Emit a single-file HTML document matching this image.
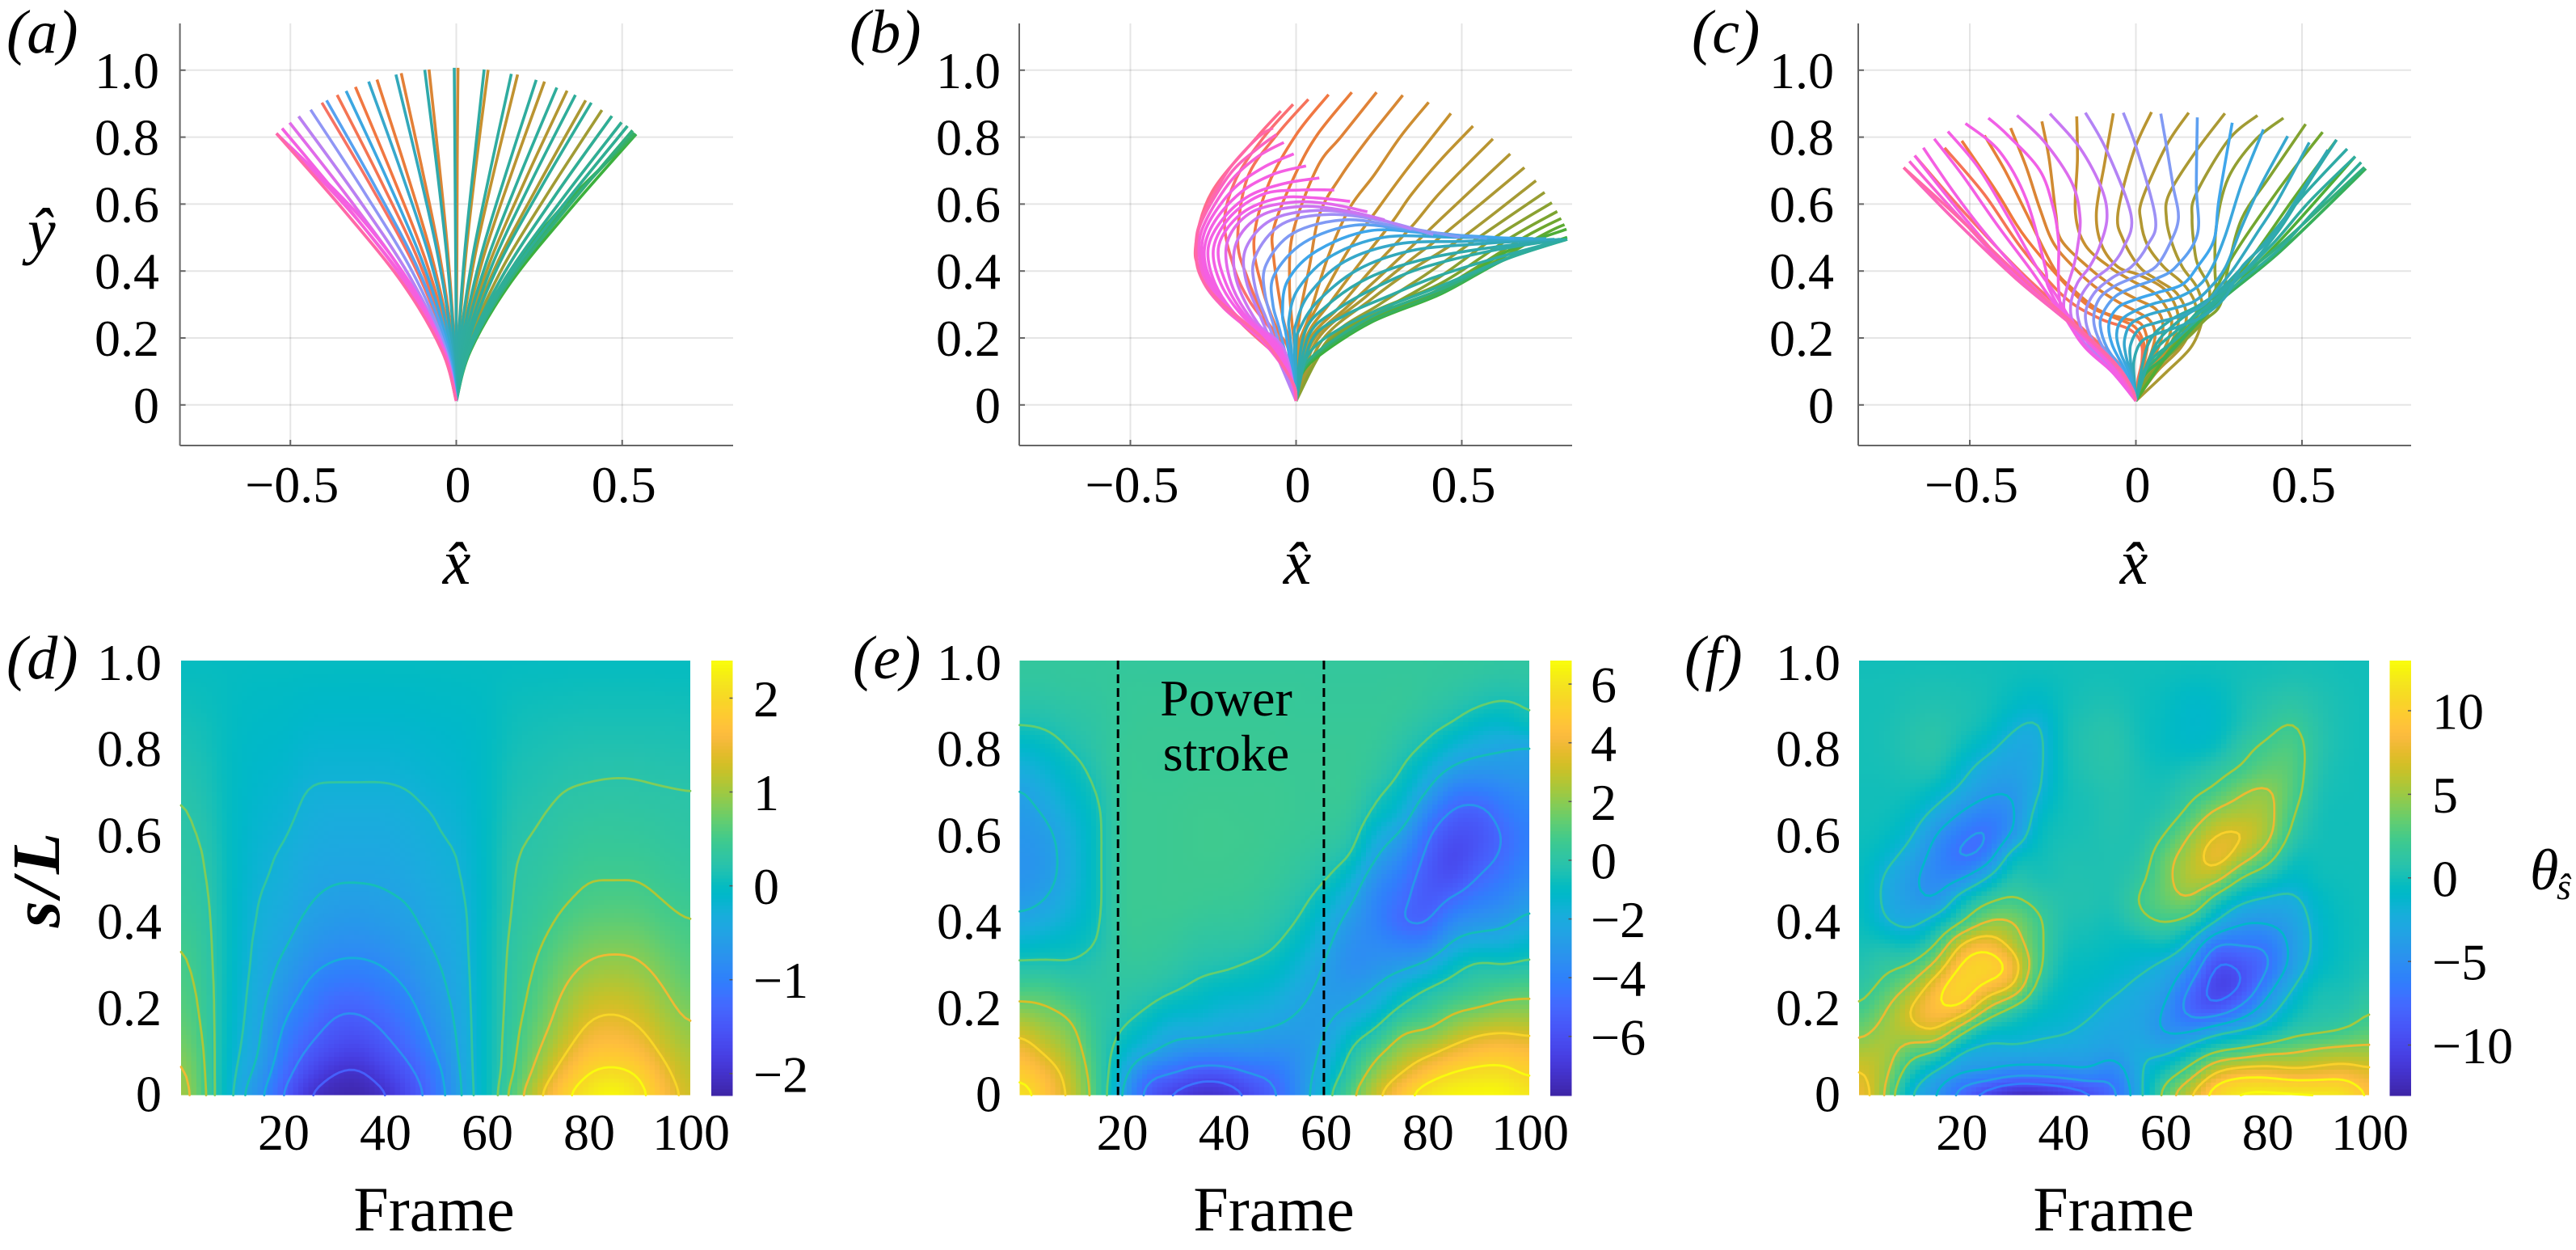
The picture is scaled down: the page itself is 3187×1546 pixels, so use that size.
<!DOCTYPE html>
<html lang="en">
<head>
<meta charset="utf-8">
<title>Beat patterns and curvature maps</title>
<style>
html,body{margin:0;padding:0;background:#fff;}
svg{display:block;}
text{font-family:"Liberation Serif",serif;fill:#000;}
.it{font-style:italic;}
</style>
</head>
<body>
<svg id="figure" xmlns="http://www.w3.org/2000/svg" width="3187" height="1546" viewBox="0 0 3187 1546">
  <rect x="0" y="0" width="3187" height="1546" fill="#fff"/>
  <g id="panel-a"></g>
  <g id="panel-b"></g>
  <g id="panel-c"></g>
  <g id="panel-d"></g>
  <g id="panel-e"></g>
  <g id="panel-f"></g>
  <g id="labels">
    <text class="it" x="8" y="65" font-size="76">(a)</text>
    <text class="it" x="1051" y="65" font-size="76">(b)</text>
    <text class="it" x="2093" y="65" font-size="76">(c)</text>
    <text class="it" x="8" y="839" font-size="76">(d)</text>
    <text class="it" x="1055" y="839" font-size="76">(e)</text>
    <text class="it" x="2084" y="839" font-size="76">(f)</text>
    <text class="it" x="34" y="312" font-size="78">ŷ</text>
    <text class="it" x="565" y="722" font-size="78" text-anchor="middle">x̂</text>
    <text class="it" x="1605" y="722" font-size="78" text-anchor="middle">x̂</text>
    <text class="it" x="2640" y="722" font-size="78" text-anchor="middle">x̂</text>
    <text class="it" transform="translate(73,1086) rotate(-90)" font-size="84" font-weight="bold" text-anchor="middle" letter-spacing="5">s/L</text>
    <text x="537" y="1522" font-size="78" text-anchor="middle">Frame</text>
    <text x="1576" y="1522" font-size="78" text-anchor="middle">Frame</text>
    <text x="2615" y="1522" font-size="78" text-anchor="middle">Frame</text>
    <text class="it" x="3130" y="1100" font-size="72">θ</text>
    <text class="it" x="3163" y="1112" font-size="46">ŝ</text>
  </g>
  <g id="annot">
    <text x="1517" y="885" font-size="64" text-anchor="middle">Power</text>
    <text x="1517" y="953" font-size="64" text-anchor="middle">stroke</text>
  </g>
</svg>
<script>
/* ---------- shared axis labels ---------- */
const fanXTicks = [-0.5, 0, 0.5];
const fanXLabels = ["−0.5", "0", "0.5"];
const fanYTicks = [0, 0.2, 0.4, 0.6, 0.8, 1.0];
const fanYLabels = ["0", "0.2", "0.4", "0.6", "0.8", "1.0"];
const frameTicks = [20, 40, 60, 80, 100];
const frameLabels = ["20", "40", "60", "80", "100"];
const arcTicks = [0, 0.2, 0.4, 0.6, 0.8, 1.0];
const arcLabels = ["0", "0.2", "0.4", "0.6", "0.8", "1.0"];
const heatFrames = [0,5,10,15,20,25,30,35,40,45,50,55,60,65,70,75,80,85,90,95,100];
const heatArc = [0,.05,.1,.15,.2,.25,.3,.35,.4,.45,.5,.55,.6,.65,.7,.75,.8,.85,.9,.95,1];
const curveBaseX = 0;
const curveBaseY = 0.012;

/* ---------- panel (a) filament shapes: per-frame x and y samples, base to tip ---------- */
const aX = [
[-.043,-.163,-.341,-.542],[-.042,-.158,-.331,-.525],[-.04,-.151,-.316,-.502],[-.038,-.143,-.299,-.475],
[-.032,-.122,-.255,-.405],[-.029,-.108,-.226,-.359],[-.024,-.091,-.192,-.304],[-.019,-.072,-.151,-.239],
[-.013,-.05,-.105,-.166],[-.007,-.025,-.052,-.082],[0,.002,.003,.005],[.008,.029,.06,.096],
[.015,.056,.117,.185],[.021,.08,.168,.266],[.027,.1,.21,.334],[.031,.117,.246,.39],
[.035,.132,.277,.439],[.038,.141,.295,.469],[.04,.149,.314,.498],[.041,.155,.325,.516],
[.042,.159,.335,.531],[.043,.163,.341,.542],
[.036,.14,.31,.542],[.039,.15,.325,.537],
[.042,.159,.335,.531],[.041,.155,.325,.516],[.04,.149,.314,.498],[.038,.141,.295,.469],
[.033,.122,.256,.407],[.029,.108,.226,.359],[.024,.091,.191,.303],[.019,.072,.152,.241],
[.013,.05,.105,.166],[.007,.025,.053,.084],[0,-.002,-.004,-.006],[-.008,-.029,-.06,-.095],
[-.015,-.055,-.115,-.182],[-.021,-.079,-.166,-.264],[-.027,-.1,-.209,-.332],[-.031,-.117,-.246,-.391],
[-.035,-.132,-.277,-.439],[-.038,-.143,-.299,-.475],[-.04,-.151,-.316,-.502],[-.042,-.158,-.331,-.525],
[-.036,-.14,-.31,-.542],[-.04,-.15,-.325,-.542],[-.043,-.163,-.341,-.542]];
const aY = [
[.162,.365,.584,.811],[.165,.372,.595,.826],[.169,.379,.607,.843],[.172,.388,.621,.862],
[.181,.406,.65,.903],[.185,.417,.667,.926],[.19,.428,.684,.95],[.194,.437,.7,.972],
[.198,.446,.714,.991],[.2,.451,.721,1.002],[.201,.453,.725,1.007],[.2,.45,.721,1.001],
[.197,.444,.711,.987],[.193,.435,.696,.966],[.188,.423,.676,.939],[.182,.41,.655,.91],
[.176,.396,.634,.881],[.173,.388,.621,.863],[.169,.38,.608,.844],[.167,.375,.6,.833],
[.164,.369,.59,.82],[.162,.364,.582,.809],
[.162,.364,.582,.809],[.163,.366,.585,.813],
[.164,.369,.59,.82],[.167,.375,.6,.833],[.169,.38,.608,.844],[.173,.388,.621,.863],
[.181,.406,.65,.903],[.185,.417,.667,.926],[.19,.427,.683,.948],[.194,.437,.699,.971],
[.198,.445,.712,.989],[.2,.451,.721,1.002],[.201,.453,.725,1.007],[.2,.45,.721,1.001],
[.197,.444,.711,.987],[.193,.435,.696,.966],[.188,.422,.675,.938],[.182,.41,.655,.91],
[.176,.397,.635,.882],[.172,.388,.621,.862],[.169,.379,.607,.843],[.165,.372,.595,.826],
[.162,.365,.584,.811],[.162,.365,.584,.811],[.162,.365,.584,.811]];
const aWarmCount = 22;

/* ---------- panel (b) ---------- */
const bX = [
[-.012,-.041,-.172,-.285,-.302,-.253,-.119,-.046],
[-.012,-.05,-.139,-.188,-.216,-.18,-.098,-.009],
[-.012,-.041,-.098,-.147,-.176,-.147,-.058,.037],
[-.012,-.025,-.058,-.102,-.127,-.082,.003,.098],
[-.017,-.041,-.068,-.066,0,.064,.168],
[-.005,-.013,-.02,-.009,.064,.137,.243],
[.003,.011,.04,.072,.137,.223,.322],
[.007,.04,.097,.162,.235,.316,.4],
[.02,.08,.162,.243,.333,.467],
[.028,.105,.202,.292,.349,.438,.534],
[.036,.129,.227,.349,.438,.594],
[.048,.162,.292,.438,.646],
[.064,.211,.349,.45,.689],
[.08,.227,.349,.503,.724],
[.097,.251,.389,.552,.75],
[.105,.267,.43,.601,.772],
[.011,.08,.227,.438,.646,.788],
[.011,.08,.227,.438,.682,.8],
[.011,.072,.227,.438,.731,.81],
[.011,.064,.227,.438,.633,.816],
[.011,.064,.227,.438,.633,.818],
[.011,.064,.227,.438,.633,.818],
[.011,.056,.227,.438,.633,.818],
[.011,.04,.105,.227,.438,.633,.818],
[.048,.146,.276,.414,.593,.812],
[.036,.121,.251,.389,.593,.804],
[.024,.097,.219,.373,.552,.796],
[0,.011,.064,.186,.349,.552,.78],
[-.005,0,.04,.146,.308,.511,.755],
[-.017,-.021,.007,.105,.267,.471,.715],
[-.029,-.041,-.025,.064,.227,.43,.658],
[-.046,-.07,-.066,.024,.178,.357,.576],
[-.062,-.094,-.09,-.009,.146,.308,.495],
[-.078,-.123,-.123,-.041,.105,.267,.414],
[-.102,-.151,-.151,-.074,.064,.211,.349],
[-.037,-.115,-.18,-.18,-.107,.015,.146,.267],
[-.046,-.131,-.196,-.208,-.139,-.017,.097,.215],
[-.012,-.054,-.147,-.212,-.233,-.163,-.05,.064,.163],
[-.012,-.066,-.163,-.228,-.249,-.196,-.098,.015,.115],
[-.012,-.074,-.18,-.245,-.265,-.22,-.139,-.033,.07],
[-.012,-.082,-.188,-.257,-.277,-.245,-.163,-.066,.03],
[-.012,-.09,-.204,-.269,-.285,-.261,-.188,-.098,-.007],
[-.012,-.098,-.22,-.277,-.293,-.269,-.196,-.115,-.037],
[-.012,-.098,-.228,-.289,-.3,-.277,-.196,-.115,-.059],
[-.012,-.098,-.237,-.293,-.302,-.281,-.204,-.115,-.07]];
const bY = [
[.07,.13,.251,.396,.485,.638,.799,.878],
[.07,.187,.308,.412,.549,.678,.799,.898],
[.07,.179,.267,.38,.493,.678,.807,.913],
[.07,.171,.227,.348,.493,.662,.811,.927],
[.171,.267,.444,.533,.694,.807,.934],
[.171,.251,.372,.517,.71,.803,.934],
[.171,.267,.412,.573,.686,.803,.925],
[.171,.267,.444,.589,.686,.803,.904],
[.195,.324,.469,.581,.702,.871],
[.195,.308,.436,.549,.63,.734,.833],
[.187,.291,.404,.533,.638,.795],
[.187,.3,.42,.557,.75],
[.195,.324,.436,.513,.709],
[.195,.316,.404,.501,.67],
[.195,.3,.388,.501,.635],
[.195,.287,.38,.501,.604],
[.082,.171,.275,.364,.499,.578],
[.082,.163,.259,.348,.497,.557],
[.082,.155,.255,.34,.501,.539],
[.082,.147,.251,.336,.457,.525],
[.082,.143,.247,.332,.436,.501],
[.082,.151,.251,.336,.436,.495],
[.082,.151,.263,.346,.435,.495],
[.082,.155,.211,.275,.356,.436,.495],
[.195,.267,.324,.38,.436,.495],
[.203,.283,.356,.412,.461,.495],
[.211,.3,.38,.432,.465,.495],
[.179,.227,.308,.404,.461,.481,.495],
[.187,.243,.332,.428,.481,.489,.497],
[.195,.259,.348,.444,.501,.501,.497],
[.203,.275,.372,.461,.521,.51,.497],
[.211,.3,.388,.485,.537,.521,.497],
[.219,.332,.42,.513,.553,.533,.501],
[.227,.348,.444,.541,.569,.549,.509],
[.251,.372,.469,.553,.581,.565,.525],
[.167,.243,.372,.485,.565,.593,.581,.553],
[.171,.251,.364,.485,.573,.605,.601,.577],
[.07,.175,.259,.364,.477,.573,.618,.618,.608],
[.07,.179,.267,.364,.469,.565,.63,.642,.642],
[.07,.179,.267,.364,.469,.557,.626,.662,.678],
[.07,.183,.275,.372,.461,.549,.638,.69,.714],
[.07,.187,.283,.38,.469,.549,.646,.71,.75],
[.07,.187,.291,.38,.477,.557,.67,.742,.784],
[.07,.195,.3,.388,.485,.565,.694,.767,.808],
[.07,.195,.316,.396,.485,.565,.702,.799,.827]];
const bWarmCount = 21;

/* ---------- panel (c) ---------- */
const cX = [
[-.014,-.066,-.178,-.364,-.55,-.699],
[-.014,-.057,-.159,-.345,-.522,-.666],
[.006,.018,.015,-.022,-.111,-.217,-.345,-.457,-.576],
[.011,.026,.023,-.006,-.079,-.168,-.327,-.42,-.524],
[.012,.03,.034,.014,-.038,-.111,-.192,-.249,-.33,-.395,-.456],
[.018,.046,.058,.043,.002,-.054,-.127,-.188,-.249,-.29,-.33,-.377],
[.03,.071,.081,.059,.002,-.071,-.144,-.225,-.241,-.261,-.283],
[.038,.087,.107,.1,.059,-.014,-.079,-.152,-.182,-.176,-.178],
[.046,.103,.128,.092,.011,-.054,-.103,-.119,-.095,-.068],
[.054,.127,.152,.124,.067,.011,-.038,-.054,-.006,.047],
[.062,.135,.177,.177,.14,.084,.035,.015,.019,.092,.159],
[.092,.165,.197,.2,.181,.14,.108,.092,.1,.181,.268],
[.027,.108,.181,.213,.221,.189,.177,.169,.181,.278,.366],
[.035,.124,.197,.238,.238,.242,.278,.359,.444],
[.035,.124,.205,.254,.278,.319,.4,.511],
[.101,.222,.287,.362,.473,.562],
[.101,.241,.334,.473,.604],
[.101,.25,.436,.66],
[.027,.101,.241,.436,.692],
[.027,.101,.241,.436,.692],
[.02,.085,.215,.42,.688],
[.036,.129,.269,.427,.539,.678],
[.046,.129,.241,.408,.52,.66],
[.055,.129,.241,.38,.501,.636],
[.036,.101,.194,.306,.427,.529,.604],
[-.004,-.006,.015,.059,.132,.205,.27,.319,.408,.483,.578],
[-.007,-.016,-.016,.011,.067,.14,.205,.254,.298,.367,.424,.522],
[-.012,-.03,-.034,-.014,.043,.108,.173,.221,.27,.319,.375,.457],
[-.018,-.046,-.058,-.042,.002,.059,.124,.189,.23,.27,.319,.384],
[-.03,-.071,-.081,-.054,.002,.067,.14,.185,.235,.25,.29],
[-.038,-.087,-.107,-.099,-.062,-.006,.059,.12,.185,.182,.185],
[-.046,-.103,-.127,-.111,-.062,.002,.059,.1,.128,.112,.096,.075],
[-.054,-.127,-.152,-.127,-.071,-.014,.035,.059,.002,-.038],
[-.062,-.135,-.172,-.172,-.135,-.079,-.038,-.014,-.087,-.152],
[-.067,-.144,-.188,-.196,-.176,-.14,-.111,-.087,-.103,-.168,-.259],
[-.071,-.148,-.196,-.217,-.208,-.188,-.176,-.168,-.192,-.273,-.358],
[-.071,-.152,-.192,-.225,-.233,-.233,-.233,-.249,-.29,-.387,-.444],
[-.071,-.152,-.217,-.265,-.273,-.33,-.411,-.513],
[-.085,-.187,-.243,-.299,-.382,-.475,-.566],
[-.066,-.159,-.243,-.317,-.42,-.522,-.607],
[-.066,-.178,-.336,-.457,-.55,-.64],
[-.066,-.178,-.355,-.5,-.666],
[-.066,-.178,-.36,-.53,-.682],
[-.014,-.066,-.178,-.364,-.55,-.699],
[-.012,-.06,-.17,-.35,-.54,-.699]];
const cY = [
[.05,.122,.227,.38,.557,.709],
[.05,.13,.227,.396,.581,.745],
[.074,.13,.187,.227,.259,.324,.469,.63,.768],
[.078,.147,.187,.235,.267,.316,.493,.638,.789],
[.082,.147,.195,.243,.259,.283,.348,.412,.573,.702,.805],
[.09,.155,.211,.251,.279,.308,.356,.412,.485,.589,.71,.827],
[.098,.179,.243,.287,.316,.356,.412,.493,.573,.734,.847],
[.098,.171,.235,.275,.332,.372,.412,.477,.573,.734,.862],
[.098,.179,.259,.34,.388,.412,.477,.573,.718,.871],
[.098,.187,.267,.332,.372,.412,.493,.573,.758,.875],
[.098,.171,.251,.308,.364,.412,.477,.549,.614,.775,.873],
[.098,.171,.243,.3,.356,.412,.485,.557,.63,.758,.871],
[.082,.155,.227,.275,.348,.412,.461,.557,.63,.791,.865],
[.082,.171,.243,.324,.412,.533,.678,.791,.857],
[.082,.171,.251,.3,.412,.557,.678,.839],
[.163,.316,.436,.549,.702,.815],
[.159,.316,.42,.614,.792],
[.155,.308,.493,.742],
[.09,.155,.3,.46,.706],
[.09,.155,.3,.46,.706],
[.09,.162,.306,.466,.71],
[.122,.203,.332,.461,.581,.725],
[.147,.227,.316,.477,.605,.742],
[.171,.251,.332,.477,.622,.765],
[.179,.251,.3,.38,.517,.678,.792],
[.066,.13,.187,.211,.235,.267,.324,.412,.501,.614,.762],
[.074,.13,.179,.227,.247,.267,.3,.356,.412,.517,.605,.784],
[.082,.147,.195,.243,.271,.287,.308,.348,.412,.533,.654,.803],
[.09,.155,.211,.255,.283,.304,.32,.356,.412,.509,.662,.823],
[.098,.179,.243,.291,.316,.336,.36,.412,.493,.614,.843],
[.098,.171,.235,.275,.324,.352,.376,.412,.509,.654,.859],
[.098,.179,.251,.316,.356,.384,.412,.477,.557,.654,.75,.87],
[.098,.187,.267,.332,.38,.412,.477,.557,.767,.873],
[.098,.171,.251,.308,.368,.412,.469,.565,.758,.873],
[.098,.171,.243,.3,.364,.412,.469,.557,.646,.767,.87],
[.098,.171,.235,.291,.348,.412,.469,.557,.662,.783,.865],
[.098,.171,.227,.291,.356,.412,.493,.589,.702,.807,.857],
[.098,.171,.267,.356,.412,.614,.758,.841],
[.13,.243,.332,.412,.557,.71,.817],
[.106,.203,.3,.404,.541,.686,.795],
[.122,.227,.38,.517,.638,.768],
[.122,.227,.38,.54,.745],
[.122,.227,.38,.56,.728],
[.05,.122,.227,.38,.557,.709],
[.05,.122,.227,.385,.565,.709]];
const cWarmCount = 19;

/* ---------- panel (d) values: one column per frame, s/L from 0 to 1 ---------- */
const dValues = [
[1.1,1,.88,.75,.66,.6,.55,.5,.43,.38,.35,.32,.29,.27,.24,.2,.16,.12,.08,.04,0],
[.5,.47,.45,.42,.4,.38,.35,.33,.31,.29,.26,.24,.21,.18,.15,.13,.1,.08,.05,.03,0],
[-.25,-.2,-.16,-.12,-.1,-.08,-.06,-.05,-.04,-.04,-.03,-.03,-.03,-.03,-.02,-.02,-.02,-.01,-.01,0,0],
[-.75,-.58,-.46,-.42,-.38,-.35,-.32,-.3,-.27,-.25,-.22,-.2,-.17,-.15,-.12,-.1,-.08,-.06,-.04,-.02,0],
[-1.4,-1.2,-1.05,-.93,-.8,-.65,-.55,-.45,-.38,-.33,-.29,-.27,-.23,-.2,-.17,-.13,-.1,-.07,-.05,-.02,0],
[-2,-1.7,-1.45,-1.25,-1.08,-.95,-.8,-.67,-.56,-.48,-.43,-.38,-.33,-.29,-.26,-.21,-.17,-.12,-.08,-.04,0],
[-2.17,-2,-1.7,-1.5,-1.33,-1.12,-.93,-.78,-.65,-.55,-.48,-.42,-.37,-.32,-.27,-.22,-.18,-.13,-.09,-.04,0],
[-2.2,-2.05,-1.78,-1.55,-1.35,-1.15,-.95,-.8,-.67,-.57,-.48,-.42,-.37,-.32,-.27,-.22,-.18,-.13,-.09,-.05,0],
[-2.05,-1.8,-1.55,-1.37,-1.2,-1.03,-.88,-.74,-.62,-.53,-.47,-.42,-.37,-.32,-.27,-.22,-.18,-.13,-.09,-.04,0],
[-1.65,-1.48,-1.28,-1.12,-.98,-.85,-.72,-.62,-.54,-.48,-.42,-.37,-.33,-.29,-.25,-.2,-.16,-.12,-.08,-.04,0],
[-1.15,-1.05,-.88,-.76,-.66,-.58,-.52,-.46,-.4,-.36,-.32,-.29,-.26,-.24,-.19,-.16,-.13,-.1,-.06,-.03,0],
[-.5,-.47,-.44,-.42,-.4,-.38,-.36,-.34,-.32,-.29,-.26,-.24,-.21,-.18,-.16,-.13,-.1,-.08,-.05,-.02,0],
[0,0,0,0,0,0,0,0,-.02,-.03,-.03,-.03,-.03,-.03,-.03,-.03,-.03,-.03,-.02,-.01,0],
[.6,.46,.42,.39,.36,.34,.32,.3,.28,.26,.25,.23,.2,.17,.14,.12,.09,.07,.05,.02,0],
[1.3,1.05,.87,.75,.65,.58,.52,.46,.4,.36,.32,.29,.26,.23,.19,.16,.13,.1,.07,.03,0],
[1.9,1.6,1.33,1.12,1,.88,.76,.65,.55,.47,.42,.37,.33,.29,.25,.2,.16,.12,.08,.04,0],
[2.25,2,1.72,1.48,1.28,1.1,.93,.79,.66,.55,.49,.43,.38,.32,.27,.22,.18,.13,.09,.05,0],
[2.4,2.1,1.78,1.55,1.35,1.15,.98,.82,.68,.57,.49,.43,.38,.33,.28,.23,.18,.13,.09,.05,0],
[2.15,1.95,1.66,1.43,1.25,1.08,.93,.8,.67,.56,.49,.43,.37,.32,.27,.23,.18,.13,.09,.05,0],
[1.65,1.5,1.3,1.14,1,.88,.77,.66,.56,.49,.43,.38,.34,.3,.26,.21,.17,.13,.09,.04,0],
[1.25,1.15,1.05,.93,.8,.7,.62,.56,.5,.44,.38,.34,.3,.28,.25,.2,.16,.12,.08,.04,0]];
const dContours = [-2,-1.4,-.9,-.5,-.25,.25,.5,.9,1.4,2];
const dBarTicks = [-2,-1,0,1,2];
const dBarLabels = ["−2","−1","0","1","2"];

/* ---------- panel (e) values ---------- */
const eValues = [
[6.2,5.2,4.3,3.2,1.9,.7,-.3,-1.3,-2.2,-2.9,-3.2,-3.2,-3.1,-2.9,-2.6,-1.9,-1.3,-.5,-.1,.2,.3],
[4.8,4.3,3.3,2.4,1.6,.8,-.3,-1.1,-1.9,-2.5,-2.9,-3,-2.8,-2.4,-1.9,-1.5,-1,-.4,-.05,.2,.3],
[3.2,2.9,2.3,1.8,1.1,.3,-.4,-.9,-1.4,-1.7,-1.9,-1.9,-1.8,-1.5,-1.2,-.9,-.4,-.1,.1,.3,.3],
[.9,.7,.5,.3,.2,.1,-.1,-.5,-.7,-.8,-.8,-.8,-.8,-.75,-.5,-.2,0,.1,.2,.3,.3],
[-2.5,-1.8,-1.1,-.5,-.1,.1,.3,.4,.5,.5,.5,.5,.5,.5,.5,.5,.5,.4,.4,.4,.3],
[-5.6,-4.4,-2.2,-1.2,-.5,0,.3,.45,.5,.55,.55,.55,.55,.55,.55,.5,.5,.5,.45,.4,.3],
[-6.7,-5,-3.1,-2,-1.1,-.3,.1,.35,.5,.6,.6,.6,.6,.6,.55,.5,.5,.5,.45,.4,.3],
[-7.4,-5.8,-3.5,-2,-1.2,-.7,-.2,.1,.35,.55,.6,.65,.65,.65,.6,.55,.5,.5,.45,.4,.3],
[-7.3,-5.8,-3.5,-2.3,-1.6,-1,-.3,.05,.3,.5,.6,.65,.65,.65,.6,.55,.5,.5,.45,.4,.3],
[-6.4,-5,-3.4,-2.4,-1.7,-1.1,-.6,0,.25,.45,.55,.6,.65,.6,.6,.55,.5,.5,.45,.4,.3],
[-5.2,-4.6,-3.5,-2.6,-2,-1.4,-.9,-.4,-.05,.2,.4,.5,.55,.6,.6,.55,.5,.5,.45,.4,.3],
[-3.4,-3.3,-3.2,-2.8,-2.5,-2.1,-1.6,-1.1,-.6,-.2,.1,.3,.45,.5,.5,.5,.5,.45,.4,.4,.3],
[-1,-1.7,-2.2,-2.6,-2.8,-2.8,-2.6,-2.2,-1.7,-1.1,-.4,0,.3,.45,.5,.5,.5,.45,.4,.35,.3],
[1.2,.3,-.4,-1.3,-2.4,-3,-3.5,-3.4,-3,-2.3,-1.5,-.5,0,.3,.5,.5,.5,.45,.4,.35,.3],
[3.2,2.2,1.1,-.4,-1.6,-2.5,-3.2,-3.6,-3.9,-3.9,-3.4,-2.5,-1.7,-.8,-.3,.2,.35,.45,.4,.35,.3],
[5,3.5,2.4,1.3,-.3,-1.4,-2.9,-3.9,-5,-4.7,-4.3,-3.6,-2.7,-1.6,-1,-.5,-.1,.2,.4,.4,.3],
[6.3,4.8,3.1,1.5,.4,-.6,-2.2,-3.9,-5.1,-5.6,-5.6,-5.3,-4.8,-3.8,-2.5,-1.6,-.7,-.2,.15,.3,.3],
[6.7,5.6,4,2.4,1.2,0,-1,-2.3,-3.6,-4.8,-6,-6.4,-6,-5.2,-4.1,-2.7,-1.6,-.6,-.1,.2,.3],
[6.8,5.9,4.6,3.1,1.5,.5,-.3,-1.8,-3.1,-4.1,-4.9,-5.6,-5.8,-5.4,-4.2,-3.1,-2.1,-1.2,-.4,0,.3],
[6.8,5.9,4.8,3.3,1.9,.8,-.5,-1.8,-2.8,-3.7,-4.3,-4.8,-4.9,-4.4,-3.8,-3,-2.4,-1.4,-.6,-.1,.2],
[6.2,5.3,4.4,3.1,1.9,1,-.2,-1.2,-2.1,-2.9,-3.5,-3.9,-4,-3.8,-3.4,-2.9,-2.6,-.7,-.4,0,.2]];
const eContours = [-6.5,-5,-2.5,-.5,1.5,3.5,5.5];
const eBarTicks = [-6,-4,-2,0,2,4,6];
const eBarLabels = ["−6","−4","−2","0","2","4","6"];
const powerStrokeFrames = [19.3, 59.7];

/* ---------- panel (f) values ---------- */
const fValues = [
[8.5,7.3,5.6,3.6,2.1,1.1,.5,.1,-.1,-.2,-.2,-.2,-.1,0,0,.1,.1,.1,.1,.1,0],
[4.5,5.3,5.8,5.3,4.2,2.6,1.5,.2,-1.8,-2.4,-2.2,-1.2,-.4,-.1,0,.1,.2,.2,.1,.1,0],
[-2,.4,3,6.2,7.1,4.7,2,-.4,-2.8,-3.7,-3.9,-2.9,-1.6,-.7,0,.4,.7,.6,.4,.2,0],
[-4.5,-2.5,2,7.2,9.2,8.5,5,1.7,-1,-4.5,-5.5,-5.4,-4.5,-2.5,-.8,.5,1.1,.9,.5,.3,0],
[-8.2,-4.5,-2,3,9.3,11,9.8,7,1.6,-.6,-4.9,-7.3,-6.5,-4.6,-2.5,-1.3,-.2,.4,.4,.2,0],
[-11,-4.8,-2.8,-.5,4.5,8.9,10.8,8.5,4.5,1.5,-2,-6.2,-7.3,-5.9,-4,-2.9,-1.4,-.2,.1,.1,0],
[-13,-6,-2.6,-.8,1.5,7.3,8.8,6,4.6,2.3,.8,-.7,-4.4,-5,-4.3,-3.4,-2.8,-1.7,-.6,-.2,0],
[-13,-6,-2.8,-1.5,-.4,1.2,2.6,2.6,2.4,1.3,.2,-.2,-.5,-1.2,-2.2,-2.5,-2.6,-2.3,-1.1,-.4,0],
[-12,-5.5,-3.1,-1.7,-1,-.6,-.2,.2,.5,.6,.5,.4,.1,0,-.1,-.1,0,0,-.1,-.1,0],
[-10.3,-5,-3.2,-2.4,-1.6,-1,-.5,-.1,.3,.6,.5,.4,.3,.2,.3,.6,.7,.6,.3,.1,0],
[-7.6,-6.2,-3.8,-3,-2.5,-1.6,-.9,-.4,0,.4,.5,.5,.6,.7,.7,.9,1,.8,.4,.1,0],
[-2.8,-2.3,-2.3,-3,-3,-2.5,-1.5,-.6,1.4,2.2,1.4,.7,.4,.3,.3,.2,0,-.1,-.1,-.1,0],
[3.2,.6,-2.6,-4.9,-4.6,-3.5,-2.5,0,2.2,3.5,3.8,3.6,2,.8,.3,-.1,-.5,-.5,-.4,-.2,0],
[7,3.4,-.4,-5,-8.2,-7.2,-4.8,-2.3,1.2,4.4,6,5.7,4.6,2.6,1.4,.4,-.8,-1.1,-1,-.5,0],
[11,7.4,2,-3.2,-9,-10.6,-9.7,-6.8,-2,.8,5.5,8.2,7,5,2.4,1.2,-.3,-.9,-.8,-.4,0],
[12.6,8.6,2.8,-2,-6.5,-9.5,-9,-6.6,-4.2,-1.5,1.8,5.8,7.2,5.6,4.3,2.2,1.4,.4,.2,.1,0],
[12.8,8.6,3.9,-.8,-3.3,-5.6,-7.4,-6.5,-4.2,-2.3,.3,3.2,5.4,5.4,4.8,3.4,2.4,1.4,.8,.3,0],
[12.8,7.8,4.3,1,-.6,-2.1,-3.7,-3.9,-3.4,-2.5,-1,0,1.3,2.2,3,3.1,2.9,2.2,1.2,.5,.1],
[12.6,8,5.1,1.4,.6,.1,-1,-1.3,-1.2,-.8,-.2,0,.1,.2,.4,.7,.9,.8,.6,.3,.1],
[12.2,8.4,5.4,2,.6,.1,-.2,-.3,-.3,-.2,-.1,0,0,0,.1,.1,.2,.2,.2,.1,0],
[9,7.5,5.3,3,1.9,.9,.4,.1,0,0,0,0,0,0,0,0,0,0,0,0,0]];
const fContours = [-9.5,-7,-4.5,-2,2,4.5,7,9.5,12];
const fBarTicks = [-10,-5,0,5,10];
const fBarLabels = ["−10","−5","0","5","10"];

/* ---------- styling helpers ---------- */
const NS = "http://www.w3.org/2000/svg";
const parula = [[.2422,.1504,.6603],[.2504,.165,.7076],[.2578,.1818,.7511],[.2647,.1978,.7952],[.2706,.2147,.8364],[.2751,.2342,.871],[.2783,.2559,.8991],[.2803,.2782,.9221],[.2813,.3006,.9414],[.281,.3228,.9579],[.2795,.3447,.9717],[.276,.3667,.9829],[.2699,.3892,.9906],[.2602,.4123,.9952],[.244,.4358,.9988],[.2206,.4603,.9973],[.1963,.4847,.9892],[.1834,.5074,.9798],[.1786,.5289,.9682],[.1764,.5499,.952],[.1687,.5703,.9359],[.154,.5902,.9218],[.146,.6091,.9079],[.138,.6276,.8973],[.1248,.6459,.8883],[.1113,.6635,.8763],[.0952,.6798,.8598],[.0689,.6948,.8394],[.0297,.7082,.8163],[.0036,.7203,.7917],[.0067,.7312,.766],[.0433,.7411,.7394],[.0964,.75,.712],[.1408,.7584,.6842],[.1717,.767,.6554],[.1938,.7758,.6251],[.2161,.7843,.5923],[.247,.7918,.5567],[.2906,.7973,.5188],[.3406,.8008,.4789],[.3909,.8029,.4354],[.4456,.8024,.3909],[.5044,.7993,.348],[.5616,.7942,.3045],[.6174,.7876,.2612],[.672,.7793,.2227],[.7242,.7698,.191],[.7738,.7598,.1646],[.8203,.7498,.1535],[.8634,.7406,.1596],[.9035,.733,.1774],[.9393,.7288,.21],[.9728,.7298,.2394],[.9956,.7434,.2371],[.997,.7659,.2199],[.9952,.7861,.199],[.9892,.8069,.1816],[.9786,.8277,.1633],[.9676,.8491,.147],[.961,.8722,.1292],[.9597,.8987,.117],[.9628,.9265,.088],[.9691,.9556,.0556],[.9763,.9831,.0538]];
function colormap(t){
  t = Math.max(0, Math.min(1, t));
  const p = t * (parula.length - 1), i = Math.min(parula.length - 2, Math.floor(p)), u = p - i;
  const a = parula[i], b = parula[i + 1];
  return "rgb(" + [0,1,2].map(k => Math.round(255 * (a[k] + (b[k] - a[k]) * u))).join(",") + ")";
}
const hueStops = [[0,[255,107,138]],[.06,[240,120,60]],[.14,[200,144,47]],[.24,[166,154,52]],[.32,[106,168,46]],[.37,[60,176,60]],[.45,[47,174,150]],[.55,[47,169,172]],[.64,[63,166,238]],[.69,[143,151,245]],[.74,[192,124,245]],[.8,[243,95,230]],[.93,[245,95,225]],[1,[255,104,168]]];
function frameColor(t){
  for (let i = 0; i < hueStops.length - 1; i++) {
    const a = hueStops[i], b = hueStops[i + 1];
    if (t <= b[0]) {
      const u = (t - a[0]) / (b[0] - a[0]);
      return "rgb(" + [0,1,2].map(k => Math.round(a[1][k] + (b[1][k] - a[1][k]) * u)).join(",") + ")";
    }
  }
  return "rgb(255,104,168)";
}
function mk(tag, parent, name, attrs){
  const el = document.createElementNS(NS, tag);
  
  
  for (const k in attrs) el.setAttribute(k, attrs[k]);
  parent.appendChild(el);
  return el;
}
function label(parent, name, str, x, y, anchor, size){
  const t = mk('text', parent, name, {x: x, y: y, 'text-anchor': anchor, 'font-size': size});
  t.textContent = str;
  return t;
}

/* ---------- fan panels ---------- */
function smoothPath(pts){
  let d = "M" + pts[0][0].toFixed(1) + " " + pts[0][1].toFixed(1);
  for (let i = 0; i < pts.length - 1; i++) {
    const p0 = pts[Math.max(0, i - 1)], p1 = pts[i], p2 = pts[i + 1], p3 = pts[Math.min(pts.length - 1, i + 2)];
    const c1x = p1[0] + (p2[0] - p0[0]) / 6, c1y = p1[1] + (p2[1] - p0[1]) / 6;
    const c2x = p2[0] - (p3[0] - p1[0]) / 6, c2y = p2[1] - (p3[1] - p1[1]) / 6;
    d += "C" + c1x.toFixed(1) + " " + c1y.toFixed(1) + " " + c2x.toFixed(1) + " " + c2y.toFixed(1) + " " + p2[0].toFixed(1) + " " + p2[1].toFixed(1);
  }
  return d;
}
function drawFan(id, tag, cfg, xs, ys, warmCount, warmExp, coolExp){
  const g = document.getElementById(id);
  const xAxis = v => cfg.x0 + v * cfg.ux;
  const yAxis = v => cfg.y0 - v * cfg.uy;
  fanXTicks.forEach((v, i) => {
    mk('line', g, 'x-gridline', {x1: xAxis(v), x2: xAxis(v), y1: cfg.top, y2: cfg.bottom, stroke: 'rgba(0,0,0,0.1)', 'stroke-width': 2});
  });
  fanYTicks.forEach((v, i) => {
    mk('line', g, 'y-gridline', {x1: cfg.left, x2: cfg.right, y1: yAxis(v), y2: yAxis(v), stroke: 'rgba(0,0,0,0.1)', 'stroke-width': 2});
  });
  mk('line', g, 'y-axis-line', {x1: cfg.left, x2: cfg.left, y1: cfg.top, y2: cfg.bottom, stroke: '#666', 'stroke-width': 2});
  mk('line', g, 'x-axis-line', {x1: cfg.left, x2: cfg.right, y1: cfg.bottom, y2: cfg.bottom, stroke: '#666', 'stroke-width': 2});
  fanXTicks.forEach((v, i) => {
    mk('line', g, 'x-tick', {x1: xAxis(v), x2: xAxis(v), y1: cfg.bottom, y2: cfg.bottom - 7, stroke: '#666', 'stroke-width': 2});
    label(g, 'x-tick-label', fanXLabels[i], xAxis(v) + 2, 621, 'middle', 64);
  });
  fanYTicks.forEach((v, i) => {
    mk('line', g, 'y-tick', {x1: cfg.left, x2: cfg.left + 7, y1: yAxis(v), y2: yAxis(v), stroke: '#666', 'stroke-width': 2});
    label(g, 'y-tick-label', fanYLabels[i], cfg.labelX, yAxis(v) + 22, 'end', 64);
  });
  const n = xs.length;
  const cool = n - warmCount;
  xs.forEach((cx, i) => {
    const cy = ys[i];
    const pts = [[xAxis(curveBaseX), yAxis(curveBaseY)]];
    cx.forEach((v, j) => pts.push([xAxis(v), yAxis(cy[j])]));
    const u = (i - warmCount + 1) / cool;
    const t = i < warmCount
      ? 0.37 * Math.pow(i / (warmCount - 1), warmExp)
      : 0.37 + 0.08 * Math.min(1, 6 * u) + 0.55 * Math.pow(u, coolExp);
    mk('path', g, 'filament-' + tag + '-' + i, {d: smoothPath(pts), fill: 'none', stroke: frameColor(t), 'stroke-width': 3.6, 'stroke-linejoin': 'round'});
  });
}
drawFan('panel-a', 'a', {x0: 564.5, ux: 410.5, y0: 500.8, uy: 414, left: 222.6, right: 907, top: 29, bottom: 551, labelX: 197}, aX, aY, aWarmCount, 1.5, 3);
drawFan('panel-b', 'b', {x0: 1603.5, ux: 410, y0: 500.8, uy: 414, left: 1261, right: 1945, top: 29, bottom: 551, labelX: 1238}, bX, bY, bWarmCount, 1, 1.25);
drawFan('panel-c', 'c', {x0: 2642.5, ux: 411, y0: 500.8, uy: 414, left: 2299, right: 2983, top: 29, bottom: 551, labelX: 2269}, cX, cY, cWarmCount, 1, 1.25);

/* ---------- heatmap panels ---------- */
function crWeight(p0, p1, p2, p3, u){
  return 0.5 * ((2 * p1) + (p2 - p0) * u + (2 * p0 - 5 * p1 + 4 * p2 - p3) * u * u + (3 * p1 - p0 - 3 * p2 + p3) * u * u * u);
}
function sampleGrid(vals, fi, fj){
  const nc = vals.length, nr = vals[0].length;
  const i = Math.min(nc - 2, Math.floor(fi)), j = Math.min(nr - 2, Math.floor(fj));
  const u = fi - i, w = fj - j;
  const col = k => {
    const c = vals[Math.max(0, Math.min(nc - 1, k))];
    return crWeight(c[Math.max(0, j - 1)], c[j], c[j + 1], c[Math.min(nr - 1, j + 2)], w);
  };
  return crWeight(col(i - 1), col(i), col(i + 1), col(i + 2), u);
}
function relax(fine, passes){
  const nx = fine.length - 1, ny = fine[0].length - 1;
  let cur = fine;
  for (let p = 0; p < passes; p++) {
    const a = [];
    for (let i = 0; i <= nx; i++) {
      const col = [];
      for (let j = 0; j <= ny; j++) {
        const l = cur[Math.max(0, i - 1)][j], r = cur[Math.min(nx, i + 1)][j];
        const d = cur[i][Math.max(0, j - 1)], t = cur[i][Math.min(ny, j + 1)];
        col.push((4 * cur[i][j] + l + r + d + t) / 8);
      }
      a.push(col);
    }
    cur = a;
  }
  return cur;
}
function drawHeat(id, tag, cfg, vals, levels, barTicks, barLabels){
  const g = document.getElementById(id);
  const frameAxis = f => cfg.left + (f - heatFrames[0]) / (heatFrames[heatFrames.length - 1] - heatFrames[0]) * (cfg.right - cfg.left);
  const arcAxis = s => cfg.bottom - s * (cfg.bottom - cfg.top);
  const tOf = v => (v - cfg.vmin) / (cfg.vmax - cfg.vmin);
  const sub = 5;
  const nx = (vals.length - 1) * sub, ny = (vals[0].length - 1) * sub;
  let fine = [];
  for (let i = 0; i <= nx; i++) {
    const col = [];
    for (let j = 0; j <= ny; j++) col.push(sampleGrid(vals, i / sub, j / sub));
    fine.push(col);
  }
  fine = relax(fine, 10);
  const fx = i => frameAxis(heatFrames[0] + (i / nx) * (heatFrames[heatFrames.length - 1] - heatFrames[0]));
  const fy = j => arcAxis(heatArc[0] + (j / ny) * (heatArc[heatArc.length - 1] - heatArc[0]));
  const cells = mk('g', g, 'heatmap-' + tag, {'shape-rendering': 'crispEdges'});
  for (let i = 0; i < nx; i++) {
    for (let j = 0; j < ny; j++) {
      const v = (fine[i][j] + fine[i + 1][j] + fine[i][j + 1] + fine[i + 1][j + 1]) / 4;
      const c = document.createElementNS(NS, 'rect');
      
      
      c.setAttribute('x', fx(i).toFixed(1));
      c.setAttribute('y', fy(j + 1).toFixed(1));
      c.setAttribute('width', (fx(i + 1) - fx(i) + (i < nx - 1 ? 0.8 : 0)).toFixed(1));
      c.setAttribute('height', (fy(j) - fy(j + 1) + (j > 0 ? 0.8 : 0)).toFixed(1));
      c.setAttribute('fill', colormap(tOf(v)));
      cells.appendChild(c);
    }
  }
  const lines = mk('g', g, 'contours-' + tag, {fill: 'none', 'stroke-linecap': 'round'});
  levels.forEach(level => {
    let d = "";
    const cross = (a, b) => (level - a) / (b - a);
    for (let i = 0; i < nx; i++) {
      for (let j = 0; j < ny; j++) {
        const a = fine[i][j], b = fine[i + 1][j], c = fine[i + 1][j + 1], e = fine[i][j + 1];
        const hits = [];
        if ((a < level) !== (b < level)) hits.push([i + cross(a, b), j]);
        if ((b < level) !== (c < level)) hits.push([i + 1, j + cross(b, c)]);
        if ((e < level) !== (c < level)) hits.push([i + cross(e, c), j + 1]);
        if ((a < level) !== (e < level)) hits.push([i, j + cross(a, e)]);
        for (let h = 0; h + 1 < hits.length; h += 2) {
          const pa = hits[h], pb = hits[h + 1];
          const xa = cfg.left + (pa[0] / nx) * (cfg.right - cfg.left), ya = cfg.bottom - (pa[1] / ny) * (cfg.bottom - cfg.top);
          const xb = cfg.left + (pb[0] / nx) * (cfg.right - cfg.left), yb = cfg.bottom - (pb[1] / ny) * (cfg.bottom - cfg.top);
          d += "M" + xa.toFixed(1) + " " + ya.toFixed(1) + "L" + xb.toFixed(1) + " " + yb.toFixed(1);
        }
      }
    }
    mk('path', lines, 'contour-line', {d: d, stroke: colormap(tOf(level) + 0.13), 'stroke-width': 2.8});
  });
  frameTicks.forEach((f, i) => {
    label(g, 'x-tick-label', frameLabels[i], frameAxis(f) + 1, 1422, 'middle', 64);
  });
  arcTicks.forEach((s, i) => {
    label(g, 'y-tick-label', arcLabels[i], cfg.labelX, 841 + (1 - s) * 533.5, 'end', 64);
  });
  const barAxis = v => cfg.top + (cfg.vmax - v) / (cfg.vmax - cfg.vmin) * (cfg.bottom - cfg.top);
  const bar = mk('g', g, 'colorbar-' + tag, {'shape-rendering': 'crispEdges'});
  const steps = 128;
  for (let k = 0; k < steps; k++) {
    const y1 = barAxis(cfg.vmin + (k + 1) / steps * (cfg.vmax - cfg.vmin));
    const y2 = barAxis(cfg.vmin + k / steps * (cfg.vmax - cfg.vmin));
    mk('rect', bar, 'colorbar-step', {x: cfg.barLeft, y: y1.toFixed(1), width: cfg.barRight - cfg.barLeft, height: (y2 - y1 + 0.8).toFixed(1), fill: colormap(k / (steps - 1))});
  }
  barTicks.forEach((v, i) => {
    mk('line', g, 'colorbar-tick', {x1: cfg.barRight - 4, x2: cfg.barRight, y1: barAxis(v), y2: barAxis(v), stroke: '#555', 'stroke-width': 1.5});
    label(g, 'colorbar-tick-label', barLabels[i], cfg.barLabelX, barAxis(v) + 22.5, 'start', 64);
  });
  return frameAxis;
}
drawHeat('panel-d', 'd', {left: 224, right: 854, top: 817, bottom: 1354.5, vmin: -2.23, vmax: 2.4, barLeft: 880, barRight: 906.5, barLabelX: 932, labelX: 200}, dValues, dContours, dBarTicks, dBarLabels);
const eFrameAxis = drawHeat('panel-e', 'e', {left: 1261.5, right: 1892, top: 817, bottom: 1354.5, vmin: -8, vmax: 6.8, barLeft: 1918, barRight: 1944.5, barLabelX: 1968, labelX: 1239}, eValues, eContours, eBarTicks, eBarLabels);
drawHeat('panel-f', 'f', {left: 2300, right: 2931, top: 817, bottom: 1354.5, vmin: -13, vmax: 13, barLeft: 2956.5, barRight: 2983, barLabelX: 3009, labelX: 2277}, fValues, fContours, fBarTicks, fBarLabels);

powerStrokeFrames.forEach(f => {
  mk('line', document.getElementById('panel-e'), 'power-stroke-boundary', {x1: eFrameAxis(f), x2: eFrameAxis(f), y1: 817, y2: 1354.5, stroke: '#000', 'stroke-width': 3, 'stroke-dasharray': '11 6'});
});
/* keep the annotation above the heatmap */
const figure = document.getElementById('figure');
figure.appendChild(document.getElementById('labels'));
figure.appendChild(document.getElementById('annot'));
</script>
</body>
</html>
